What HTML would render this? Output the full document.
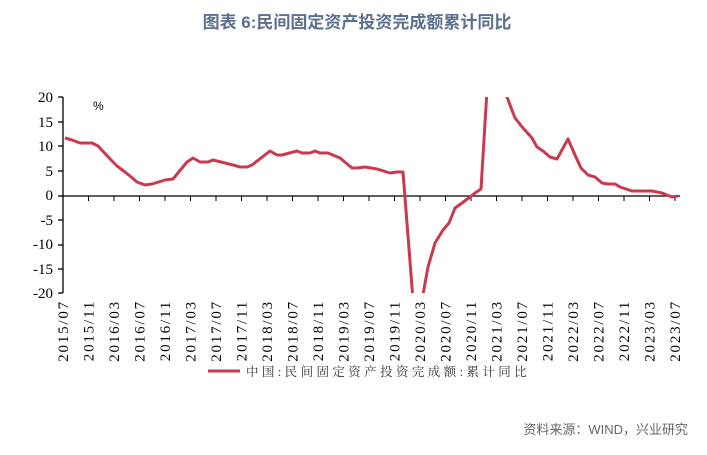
<!DOCTYPE html>
<html><head><meta charset="utf-8"><style>
body{margin:0;background:#fff;width:707px;height:450px;overflow:hidden}
</style></head><body>
<svg width="707" height="450" xmlns="http://www.w3.org/2000/svg">
<text x="357" y="28" text-anchor="middle" font-family="'Liberation Sans','Noto Sans CJK SC',sans-serif" font-weight="bold" font-size="17" fill="#5b6f8e">图表 6:民间固定资产投资完成额累计同比</text>
<g font-family="'Liberation Serif','Noto Serif CJK SC',serif" font-size="15" fill="#000" text-anchor="end">
<text x="53" y="102">20</text><text x="53" y="127">15</text><text x="53" y="151">10</text><text x="53" y="176">5</text><text x="53" y="200">0</text><text x="53" y="225">-5</text><text x="53" y="249">-10</text><text x="53" y="274">-15</text><text x="53" y="298">-20</text>
</g>
<text x="93" y="110" font-family="'Liberation Sans',sans-serif" font-size="12">%</text>
<g stroke="#000" stroke-width="1.3">
<line x1="63" y1="97" x2="63" y2="293"/>
<line x1="63" y1="196" x2="680" y2="196"/>
<line x1="58" y1="97" x2="63" y2="97"/><line x1="58" y1="122" x2="63" y2="122"/><line x1="58" y1="146" x2="63" y2="146"/><line x1="58" y1="171" x2="63" y2="171"/><line x1="58" y1="196" x2="63" y2="196"/><line x1="58" y1="220" x2="63" y2="220"/><line x1="58" y1="245" x2="63" y2="245"/><line x1="58" y1="269" x2="63" y2="269"/><line x1="58" y1="293" x2="63" y2="293"/>
</g>
<g id="ticks" stroke="#000" stroke-width="1"></g>
<defs><clipPath id="c"><rect x="60" y="97" width="630" height="196"/></clipPath></defs>
<polyline clip-path="url(#c)" fill="none" stroke="#c9394f" stroke-width="3" stroke-linejoin="round" points="65,138 72,140 80,143 92,143 98,146 113,162 117,166 125,172 130,176 137,182 145,185 152,184 165,180 173,179 187,162 193,158 200,162 208,162 213,160 233,165 240,167 247,167 252,165 270,151 277,155 282,155 297,151 302,153 310,153 315,151 320,153 328,153 340,158 352,168 357,168 365,167 377,169 390,173 397,172 403,172 413,300 422,300 428,267 435,243 443,230 449,223 455,208 462,203 470,197 475,193 481,189 487,90 503,90 507,97 515,118 523,128 532,138 537,147 543,151 550,157 557,159 568,139 575,155 581,168 588,175 595,177 602,183 608,184 615,184 620,187 632,191 652,191 662,193 672,197 678,196"/>
<g id="xl" font-family="'Liberation Serif',serif" font-size="15" letter-spacing="1.8" fill="#000"></g>
<line x1="208" y1="371" x2="240" y2="371" stroke="#c9394f" stroke-width="3"/>
<text x="246" y="376" font-family="'Liberation Serif','Noto Serif CJK SC',serif" font-size="12.5" letter-spacing="3.4" fill="#333">中国:民间固定资产投资完成额:累计同比</text>
<text x="688" y="434" text-anchor="end" font-family="'Liberation Sans','Noto Sans CJK SC',sans-serif" font-size="13" fill="#666">资料来源：WIND，兴业研究</text>
<script>
var labs=["2015/07","2015/11","2016/03","2016/07","2016/11","2017/03","2017/07","2017/11","2018/03","2018/07","2018/11","2019/03","2019/07","2019/11","2020/03","2020/07","2020/11","2021/03","2021/07","2021/11","2022/03","2022/07","2022/11","2023/03","2023/07"];
var t=document.getElementById("ticks"),x=document.getElementById("xl"),ns="http://www.w3.org/2000/svg";
labs.forEach(function(l,i){var px=63+i*25.5;
var ln=document.createElementNS(ns,"line");ln.setAttribute("x1",px);ln.setAttribute("x2",px);ln.setAttribute("y1",196);ln.setAttribute("y2",201);t.appendChild(ln);
var tx=document.createElementNS(ns,"text");tx.setAttribute("transform","translate("+(px+5)+",300) rotate(-90)");tx.setAttribute("text-anchor","end");tx.textContent=l;x.appendChild(tx);});
</script>
</svg>
</body></html>
